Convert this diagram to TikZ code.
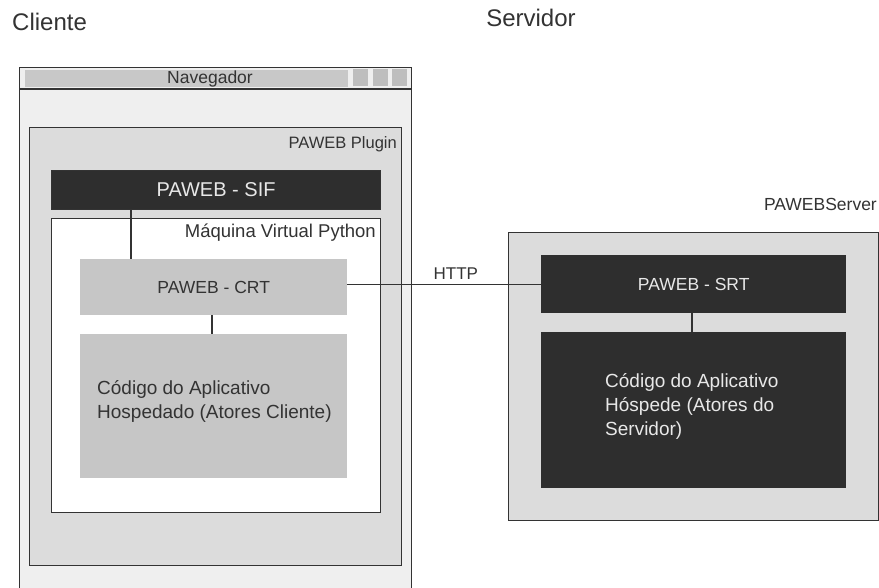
\documentclass[tikz,border=0pt]{standalone}
\usepackage{fontspec}
\setmainfont{Liberation Sans}
\usetikzlibrary{positioning, calc}
\usepackage{xcolor}

\definecolor{ink}{HTML}{333333}
\definecolor{paper}{HTML}{EFEFEF}
\definecolor{plug}{HTML}{DCDCDC}
\definecolor{barfill}{HTML}{C8C8C8}
\definecolor{light}{HTML}{C6C6C6}
\definecolor{dark}{HTML}{2E2E2E}
\definecolor{pale}{HTML}{E8E8E8}

\begin{document}
\begin{tikzpicture}[x=1pt, y=-1pt,
    frame/.style={draw=ink, line width=1.2pt, rectangle, inner sep=0pt, anchor=north west},
    darkbox/.style={rectangle, inner sep=0pt, anchor=north west, fill=dark, text=pale},
    lightbox/.style={rectangle, inner sep=0pt, anchor=north west, fill=light, text=ink},
    btn/.style={rectangle, inner sep=0pt, anchor=north west, fill=barfill!95!black, minimum width=15pt, minimum height=17pt},
    heading/.style={text=ink, inner sep=0pt, font=\fontsize{24}{28}\selectfont},
    tag/.style={text=ink, inner sep=0pt, font=\fontsize{17}{20}\selectfont},
    body/.style={inner sep=0pt, align=left, anchor=west, font=\fontsize{19}{24}\selectfont},
    wire/.style={draw=ink, line width=1.2pt}
]
\clip (0,0) rectangle (879,588);
\fill[white] (0,0) rectangle (879,588);

% Headings
\node[heading, anchor=west] (cliente) at (12,22) {Cliente};
\node[heading] (servidor) at (531,18) {Servidor};

% Client side
\node[frame, fill=paper, minimum width=392pt, minimum height=560pt] (nav) at (19,67) {};
\draw[wire] ([yshift=-22pt]nav.north west) -- ([yshift=-22pt]nav.north east);
\node[rectangle, inner sep=0pt, anchor=north west, fill=barfill, minimum width=323pt, minimum height=17pt] (bar) at (25,70) {};
\foreach \x in {353,373,392}
    \node[btn] at (\x,69) {};
\node[tag, font=\fontsize{17.5}{20}\selectfont] (navlabel) at (210,79) {Navegador};

\node[frame, fill=plug, minimum width=372pt, minimum height=438pt] (plugin) at (29,127) {};
\node[tag, anchor=east, font=\fontsize{16.5}{20}\selectfont] (pluginlabel) at (397,144) {PAWEB Plugin};

\node[frame, fill=dark, text=pale, minimum width=329pt, minimum height=39pt, font=\fontsize{20}{24}\selectfont] (sif) at (51,170) {PAWEB - SIF};

\node[frame, fill=white, minimum width=329pt, minimum height=294pt] (vm) at (51,218) {};
\node[tag, anchor=east, font=\fontsize{18.5}{22}\selectfont] (vmlabel) at (376,233) {Máquina Virtual Python};

\node[lightbox, minimum width=267pt, minimum height=56pt, font=\fontsize{17.5}{20}\selectfont] (crt) at (80,259) {PAWEB - CRT};
\node[lightbox, minimum width=267pt, minimum height=144pt] (clicode) at (80,334) {};
\node[body, text=ink] (clitext) at (97,401) {Código do Aplicativo\\Hospedado (Atores Cliente)};

% Server side
\node[tag, anchor=east, font=\fontsize{17.5}{20}\selectfont] (serverlabel) at (877,204) {PAWEBServer};
\node[frame, fill=plug, minimum width=370pt, minimum height=288pt] (server) at (508,232) {};
\node[darkbox, minimum width=305pt, minimum height=58pt, font=\fontsize{17.5}{20}\selectfont] (srt) at (541,255) {PAWEB - SRT};
\node[darkbox, minimum width=305pt, minimum height=156pt] (srvcode) at (541,332) {};
\node[body, text=pale] (srvtext) at (605,406) {Código do Aplicativo\\Hóspede (Atores do\\Servidor)};

% Edges
\draw[wire] ([xshift=80pt]sif.south west) -- ([xshift=51pt]crt.north west);
\draw[wire] ([xshift=132pt]crt.south west) -- ([xshift=132pt]clicode.north west);
\draw[wire] ([xshift=151pt]srt.south west) -- ([xshift=151pt]srvcode.north west);
\draw[wire] (crt.east |- srt.west) -- node[tag, above=4pt, pos=.56] {HTTP} (srt.west);

\end{tikzpicture}
\end{document}
